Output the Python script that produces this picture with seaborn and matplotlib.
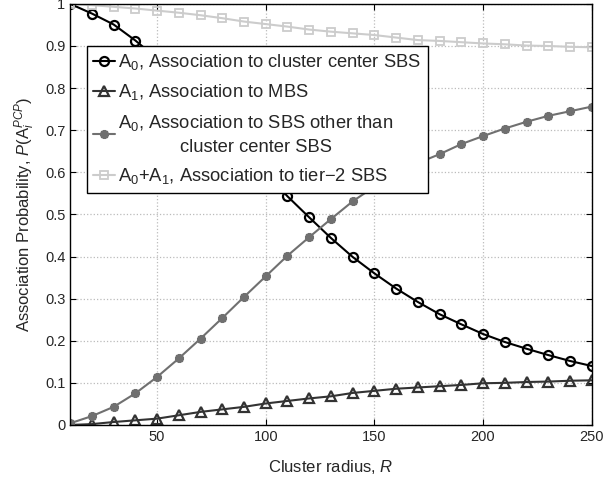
import matplotlib
matplotlib.use("Agg")
import matplotlib.pyplot as plt
import seaborn as sns

# cluster radius R
radius = [10, 20, 30, 40, 50, 60, 70, 80, 90, 100, 110, 120, 130,
          140, 150, 160, 170, 180, 190, 200, 210, 220, 230, 240, 250]

# A0, association to cluster center SBS
a0_center = [1.000, 0.977, 0.951, 0.913, 0.870, 0.821, 0.768, 0.712, 0.654, 0.599,
             0.543, 0.493, 0.444, 0.399, 0.360, 0.324, 0.292, 0.263, 0.239, 0.216,
             0.197, 0.181, 0.166, 0.152, 0.140]
# A1, association to MBS
a1_mbs = [0.000, 0.002, 0.007, 0.011, 0.015, 0.023, 0.031, 0.037, 0.043, 0.051,
          0.057, 0.063, 0.068, 0.076, 0.081, 0.086, 0.089, 0.092, 0.095, 0.099,
          0.100, 0.102, 0.103, 0.105, 0.106]
# A0, association to SBS other than cluster center SBS
a0_other = [0.004, 0.021, 0.043, 0.075, 0.114, 0.158, 0.205, 0.254, 0.304, 0.353,
            0.402, 0.446, 0.489, 0.531, 0.566, 0.596, 0.622, 0.643, 0.667, 0.686,
            0.704, 0.720, 0.734, 0.745, 0.756]
# A0+A1, association to tier-2 SBS
tier2 = [1.000, 0.997, 0.993, 0.989, 0.984, 0.979, 0.973, 0.966, 0.958, 0.952,
         0.946, 0.939, 0.934, 0.930, 0.926, 0.920, 0.914, 0.912, 0.909, 0.906,
         0.904, 0.901, 0.900, 0.898, 0.897]

labels = [r"$\mathregular{A_0}$, Association to cluster center SBS",
          r"$\mathregular{A_1}$, Association to MBS",
          "$\\mathregular{A_0}$, Association to SBS other than\ncluster center SBS",
          r"$\mathregular{A_0}$+$\mathregular{A_1}$, Association to tier$-$2 SBS"]

sns.set_style("ticks")
plt.rcParams["font.family"] = ["Liberation Sans", "DejaVu Sans"]
plt.rcParams["mathtext.fontset"] = "custom"
plt.rcParams["mathtext.rm"] = "Liberation Sans"
plt.rcParams["mathtext.it"] = "Liberation Sans:italic"

fig, ax = plt.subplots(figsize=(6.05, 4.84), dpi=100)
fig.subplots_adjust(left=0.116, right=0.978, bottom=0.122, top=0.992)

sns.lineplot(x=radius, y=a0_center, ax=ax, color="black", lw=1.5,
             marker="o", ms=6.5, mfc="none", mec="black", mew=1.6, label=labels[0])
sns.lineplot(x=radius, y=a1_mbs, ax=ax, color="#333333", lw=1.5,
             marker="^", ms=7, mfc="none", mec="#333333", mew=1.6, label=labels[1])
sns.lineplot(x=radius, y=a0_other, ax=ax, color="#707070", lw=1.5,
             marker=(8, 2, 0), ms=6.5, mec="#707070", mew=1.8, label=labels[2])
sns.lineplot(x=radius, y=tier2, ax=ax, color="#cccccc", lw=1.5,
             marker="s", ms=5.5, mfc="none", mec="#cccccc", mew=1.3, label=labels[3])

ax.set_xlim(10, 250)
ax.set_ylim(0, 1)
ax.set_xticks([50, 100, 150, 200, 250])
yt = [i / 10 for i in range(11)]
ax.set_yticks(yt)
ax.set_yticklabels(["0"] + [f"{v:.1f}" for v in yt[1:-1]] + ["1"])
ax.grid(True, linestyle=":", color="#bbbbbb", lw=0.9)
ax.tick_params(direction="in", top=True, right=True, labelsize=10.5, length=4, color="black")
for s in ax.spines.values():
    s.set_color("black")
    s.set_linewidth(1.0)

ax.set_xlabel(r"Cluster radius, $\mathit{R}$", fontsize=12, labelpad=10)
ax.set_ylabel(r"Association Probability, $\mathit{P}(\mathrm{A}_{\mathit{i}}^{\mathit{PCP}})$",
              fontsize=12, labelpad=6)

leg = ax.legend(loc="upper left", bbox_to_anchor=(0.032, 0.90), fontsize=13.2,
                frameon=True, fancybox=False, framealpha=1, edgecolor="black",
                handlelength=1.2, handletextpad=0.15, borderpad=0.35, labelspacing=0.55,
                borderaxespad=0)
leg.get_frame().set_linewidth(1.0)
leg.get_texts()[2].set_multialignment("center")
leg.get_texts()[2].set_linespacing(1.5)

fig.savefig("out.png", dpi=100)
